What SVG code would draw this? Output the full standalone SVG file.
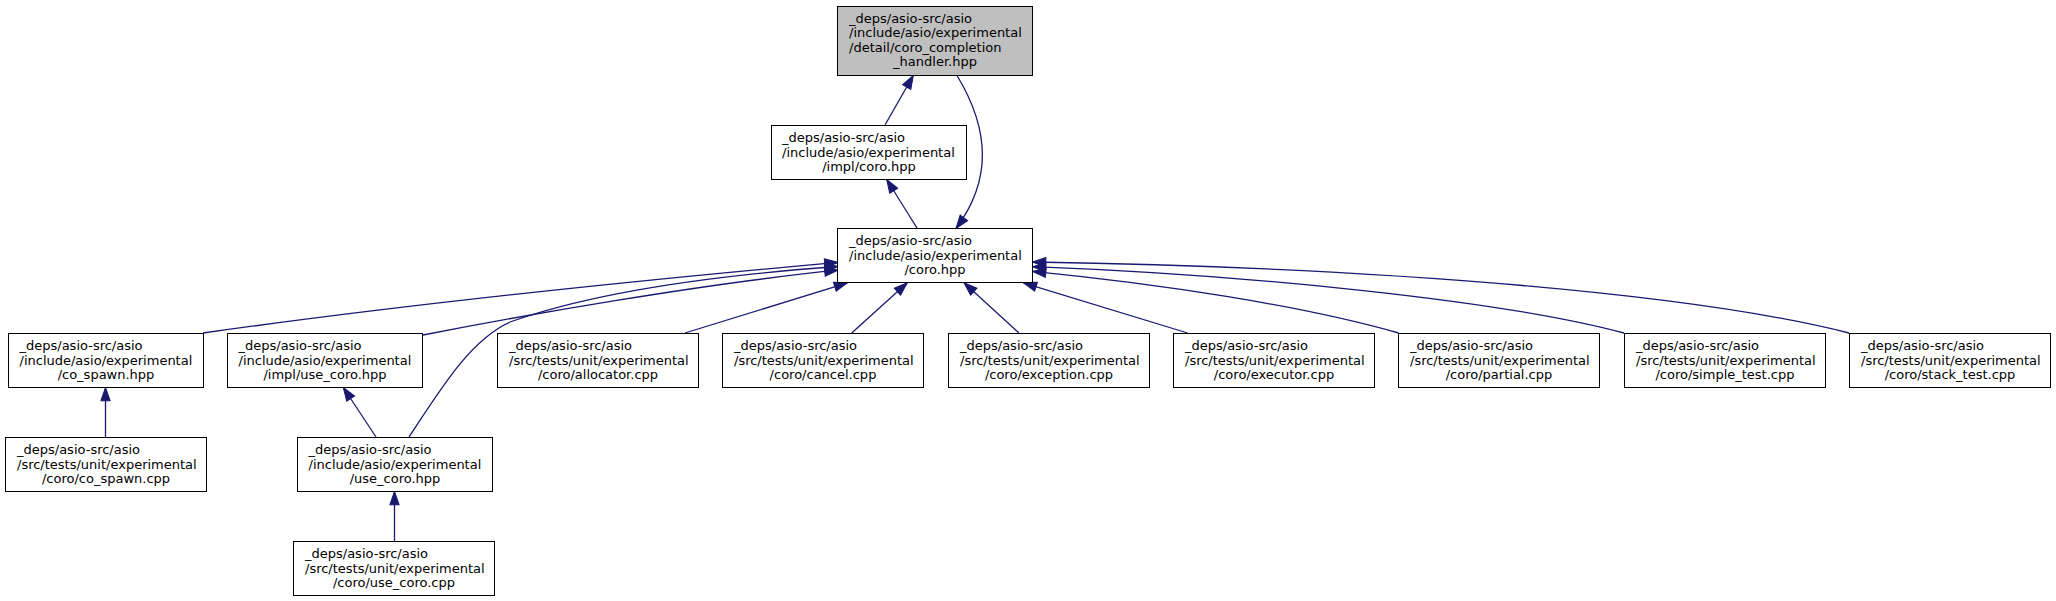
<svg xmlns="http://www.w3.org/2000/svg" width="2056" height="601" viewBox="0 0 2056 601">
<style>
.n rect{fill:#ffffff;stroke:#000000;stroke-width:1}
.n.root rect{fill:#bfbfbf}
.n text{font-family:"DejaVu Sans",sans-serif;font-size:13px;fill:#000000}
.n text.c{text-anchor:middle}
.e path{fill:none;stroke:#191970;stroke-width:1.3;marker-end:url(#ah)}
</style>
<defs>
<marker id="ah" markerWidth="14" markerHeight="10" refX="13.3" refY="4.7" orient="auto" markerUnits="userSpaceOnUse" overflow="visible">
<path d="M0,0 L13.3,4.7 L0,9.4 z" fill="#191970" stroke="#191970" stroke-width="1"/>
</marker>
</defs>
<rect width="2056" height="601" fill="#ffffff"/>
<g id="edges" class="e">
<path d="M885,125 L913.3,75.5"/>
<path d="M957,75.5 C990,130 992,180 956,228.5"/>
<path d="M917.3,228.5 L886.7,179.5"/>
<path d="M203,333 C380,308 620,282 838,262.3"/>
<path d="M423,335 C520,316 700,284 838,270.2"/>
<path d="M409,437 C440,390 470,340 510,322 C600,290 720,275 838,266.5"/>
<path d="M685,333 L847.5,282.8"/>
<path d="M851.7,333 L907.3,282.8"/>
<path d="M1019,333 L964,282.8"/>
<path d="M1187.6,333 L1023.3,282.8"/>
<path d="M1398.5,333 C1300,305 1160,284 1032.5,271.4"/>
<path d="M1624,333 C1500,300 1250,275 1032.5,266.7"/>
<path d="M1849,333 C1700,295 1400,268 1032.5,262"/>
<path d="M105.5,437 L105.5,387.5"/>
<path d="M376,437 L343.3,387.5"/>
<path d="M394.5,541 L394.5,491.5"/>
</g>
<g id="node_root" class="n root">
<rect x="837.5" y="6.5" width="195" height="69"/>
<text x="849" y="22.5">_deps/asio-src/asio</text>
<text x="849" y="37">/include/asio/experimental</text>
<text x="849" y="51.5">/detail/coro_completion</text>
<text class="c" x="935" y="66">_handler.hpp</text>
</g>
<g id="node_impl_coro" class="n">
<rect x="771.5" y="125.5" width="195" height="54"/>
<text x="782" y="142">_deps/asio-src/asio</text>
<text x="782" y="156.5">/include/asio/experimental</text>
<text class="c" x="869" y="171">/impl/coro.hpp</text>
</g>
<g id="node_coro" class="n">
<rect x="837.5" y="228.5" width="195" height="54"/>
<text x="849" y="245">_deps/asio-src/asio</text>
<text x="849" y="259.5">/include/asio/experimental</text>
<text class="c" x="935" y="274">/coro.hpp</text>
</g>
<g id="node_co_spawn_hpp" class="n">
<rect x="8.5" y="333.5" width="195" height="54"/>
<text x="19.5" y="350">_deps/asio-src/asio</text>
<text x="19.5" y="364.5">/include/asio/experimental</text>
<text class="c" x="106" y="379">/co_spawn.hpp</text>
</g>
<g id="node_impl_use_coro" class="n">
<rect x="227.5" y="333.5" width="195" height="54"/>
<text x="238.5" y="350">_deps/asio-src/asio</text>
<text x="238.5" y="364.5">/include/asio/experimental</text>
<text class="c" x="325" y="379">/impl/use_coro.hpp</text>
</g>
<g id="node_allocator" class="n">
<rect x="497.5" y="333.5" width="201" height="54"/>
<text x="509" y="350">_deps/asio-src/asio</text>
<text x="509" y="364.5">/src/tests/unit/experimental</text>
<text class="c" x="598" y="379">/coro/allocator.cpp</text>
</g>
<g id="node_cancel" class="n">
<rect x="722.5" y="333.5" width="201" height="54"/>
<text x="734" y="350">_deps/asio-src/asio</text>
<text x="734" y="364.5">/src/tests/unit/experimental</text>
<text class="c" x="823" y="379">/coro/cancel.cpp</text>
</g>
<g id="node_exception" class="n">
<rect x="948.5" y="333.5" width="201" height="54"/>
<text x="960" y="350">_deps/asio-src/asio</text>
<text x="960" y="364.5">/src/tests/unit/experimental</text>
<text class="c" x="1049" y="379">/coro/exception.cpp</text>
</g>
<g id="node_executor" class="n">
<rect x="1173.5" y="333.5" width="201" height="54"/>
<text x="1185" y="350">_deps/asio-src/asio</text>
<text x="1185" y="364.5">/src/tests/unit/experimental</text>
<text class="c" x="1274" y="379">/coro/executor.cpp</text>
</g>
<g id="node_partial" class="n">
<rect x="1398.5" y="333.5" width="201" height="54"/>
<text x="1410" y="350">_deps/asio-src/asio</text>
<text x="1410" y="364.5">/src/tests/unit/experimental</text>
<text class="c" x="1499" y="379">/coro/partial.cpp</text>
</g>
<g id="node_simple_test" class="n">
<rect x="1624.5" y="333.5" width="201" height="54"/>
<text x="1636" y="350">_deps/asio-src/asio</text>
<text x="1636" y="364.5">/src/tests/unit/experimental</text>
<text class="c" x="1725" y="379">/coro/simple_test.cpp</text>
</g>
<g id="node_stack_test" class="n">
<rect x="1849.5" y="333.5" width="201" height="54"/>
<text x="1861" y="350">_deps/asio-src/asio</text>
<text x="1861" y="364.5">/src/tests/unit/experimental</text>
<text class="c" x="1950" y="379">/coro/stack_test.cpp</text>
</g>
<g id="node_co_spawn_cpp" class="n">
<rect x="5.5" y="437.5" width="201" height="54"/>
<text x="17" y="454">_deps/asio-src/asio</text>
<text x="17" y="468.5">/src/tests/unit/experimental</text>
<text class="c" x="106" y="483">/coro/co_spawn.cpp</text>
</g>
<g id="node_use_coro_hpp" class="n">
<rect x="297.5" y="437.5" width="195" height="54"/>
<text x="308.5" y="454">_deps/asio-src/asio</text>
<text x="308.5" y="468.5">/include/asio/experimental</text>
<text class="c" x="395" y="483">/use_coro.hpp</text>
</g>
<g id="node_use_coro_cpp" class="n">
<rect x="293.5" y="541.5" width="201" height="54"/>
<text x="305" y="558">_deps/asio-src/asio</text>
<text x="305" y="572.5">/src/tests/unit/experimental</text>
<text class="c" x="394" y="587">/coro/use_coro.cpp</text>
</g>
</svg>
